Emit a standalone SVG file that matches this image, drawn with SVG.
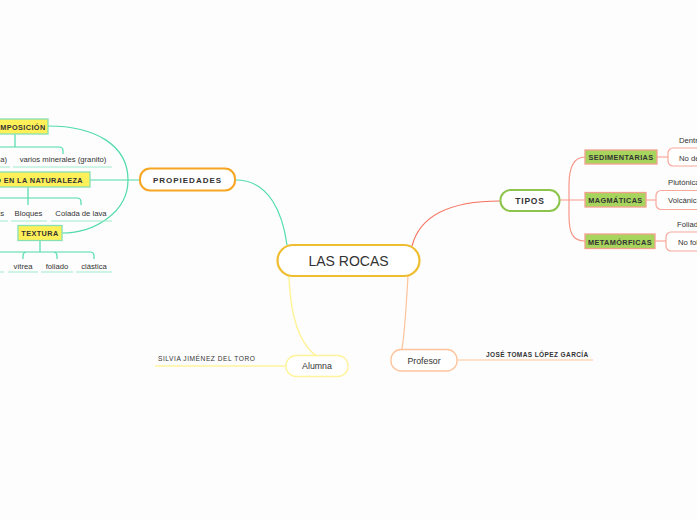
<svg xmlns="http://www.w3.org/2000/svg" width="697" height="520" viewBox="0 0 697 520">
<style>
text{font-family:"Liberation Sans",Arial,sans-serif;fill:#333}
.sub{font-size:7.7px}
.hl{font-size:7.3px;font-weight:bold;letter-spacing:0.4px}
.g{fill:none;stroke:#4fdcaa;stroke-width:1.2}
.ul{fill:none;stroke:#9eebcb;stroke-width:1.2}
.r{fill:none;stroke:#f6705e;stroke-width:1.2}
.rs{fill:none;stroke:#f7978a;stroke-width:1.2}
.ybox{fill:#fff05a;stroke:#86e0b2;stroke-width:1.3}
.gbox{fill:#a6d45c;stroke:#f4a08f;stroke-width:1.3}
.bracket{fill:#fff;stroke:#f7a89c;stroke-width:1.2}
</style>
<rect width="697" height="520" fill="#fdfdfd"/>
<g id="connectors">
  <path class="g" d="M236,180 C270,180 283,215 287,245"/>
  <path class="g" d="M140,180 H90"/>
  <path class="g" d="M48,126 C95,126 128,145 128,180 C128,212 95,233 62,233"/>
  <path class="g" d="M15,134 V147 M-10,147 H59 Q63,147 63,151 V154"/>
  <path class="g" d="M28,187 V205 M-10,198 H77 Q81,198 81,202 V205"/>
  <path class="g" d="M40,240 V252 M-10,252 H90 Q94,252 94,256 V259 M23,259 V256 Q23,252 27,252 M53,252 Q57,252 57,256 V259"/>
  <path class="ul" d="M-5,167 H10 M13,167 H112 M-5,221 H8 M11,221 H47 M51,221 H112 M-5,272 H4 M8,272 H38 M41,272 H73 M76,272 H112"/>
  <path class="r" d="M412,246 C420,215 450,201 500,201"/>
  <path class="rs" d="M559,200 H585 M585,157 C572,157 569,170 569,185 L569,215 C569,232 572,241 585,241 M657,157 H668 M646,200 H656 M655,241 H666"/>
  <path fill="none" stroke="#fff39a" stroke-width="1.5" d="M289,276 C291,330 305,365 348,366"/>
  <path fill="none" stroke="#fff39a" stroke-width="1.5" d="M286,366 H155"/>
  <path fill="none" stroke="#ffc39a" stroke-width="1.2" d="M408,276 C406,310 404,340 402,348 C399,356 395,358 392,360"/>
  <path fill="none" stroke="#ffc39a" stroke-width="1.2" d="M457,360 H593"/>
</g>
<g id="central">
  <rect x="277.5" y="245" width="142" height="31" rx="15.5" fill="#fff" stroke="#eebd30" stroke-width="2.2"/>
  <text x="348.5" y="266" text-anchor="middle" font-size="14">LAS ROCAS</text>
</g>
<g id="propiedades">
  <rect x="140" y="168.5" width="95" height="22" rx="10" fill="#fff" stroke="#f6a623" stroke-width="2"/>
  <text x="187.5" y="182.5" text-anchor="middle" font-size="8" font-weight="bold" letter-spacing="1">PROPIEDADES</text>
</g>
<g id="composicion">
  <rect x="-20" y="119" width="68" height="15" fill="#fff05a" stroke="#86e0b2" stroke-width="1.3"/>
  <text x="17" y="129.5" text-anchor="middle" class="hl">COMPOSICIÓN</text>
</g>
<g id="comp-sub1"><text x="7" y="161.5" text-anchor="end" class="sub">(roca)</text></g>
<g id="comp-sub2"><text x="63" y="161.5" text-anchor="middle" class="sub">varios minerales (granito)</text></g>
<g id="naturaleza">
  <rect x="-30" y="172" width="120" height="15" class="ybox"/>
  <text x="30" y="182.5" text-anchor="middle" class="hl">MODO EN LA NATURALEZA</text>
</g>
<g id="nat-sub1"><text x="4" y="215.5" text-anchor="end" class="sub">Coladas</text></g>
<g id="nat-sub2"><text x="28.5" y="215.5" text-anchor="middle" class="sub">Bloques</text></g>
<g id="nat-sub3"><text x="81" y="215.5" text-anchor="middle" class="sub">Colada de lava</text></g>
<g id="textura">
  <rect x="18" y="225.5" width="44" height="15" class="ybox"/>
  <text x="40" y="236" text-anchor="middle" class="hl">TEXTURA</text>
</g>
<g id="tex-sub1"><text x="23" y="268.5" text-anchor="middle" class="sub">vítrea</text></g>
<g id="tex-sub2"><text x="57" y="268.5" text-anchor="middle" class="sub">foliado</text></g>
<g id="tex-sub3"><text x="94" y="268.5" text-anchor="middle" class="sub">clástica</text></g>
<g id="tipos">
  <rect x="500.5" y="190" width="59" height="21" rx="10" fill="#fff" stroke="#8cc44c" stroke-width="2"/>
  <text x="530" y="203.5" text-anchor="middle" font-size="8.5" font-weight="bold" letter-spacing="0.8">TIPOS</text>
</g>
<g id="sedimentarias">
  <rect x="585" y="150" width="72" height="14" class="gbox"/>
  <text x="621" y="160" text-anchor="middle" class="hl" font-size="7">SEDIMENTARIAS</text>
</g>
<g id="magmaticas">
  <rect x="585" y="192.5" width="61" height="14.5" class="gbox"/>
  <text x="615.5" y="203" text-anchor="middle" class="hl" font-size="7">MAGMÁTICAS</text>
</g>
<g id="metamorficas">
  <rect x="585" y="234" width="70" height="14.5" class="gbox"/>
  <text x="620" y="244.5" text-anchor="middle" class="hl" font-size="7">METAMÓRFICAS</text>
</g>
<g id="sed-sub">
  <rect x="668" y="148" width="60" height="18" rx="5" class="bracket"/>
  <text x="679" y="142.5" class="sub">Dentríticas</text>
  <text x="679" y="161" class="sub">No detríticas</text>
</g>
<g id="mag-sub">
  <rect x="656" y="190.5" width="60" height="19" rx="5" class="bracket"/>
  <text x="668" y="184.5" class="sub">Plutónicas</text>
  <text x="668" y="203" class="sub">Volcánicas</text>
</g>
<g id="met-sub">
  <rect x="666" y="232" width="60" height="19" rx="5" class="bracket"/>
  <text x="677" y="226.5" class="sub">Foliadas</text>
  <text x="678" y="245" class="sub">No foliadas</text>
</g>
<g id="alumna">
  <rect x="286" y="355.5" width="62" height="21" rx="10" fill="#fff" stroke="#fff39a" stroke-width="1.3"/>
  <text x="317" y="369" text-anchor="middle" font-size="8.8">Alumna</text>
</g>
<g id="alumna-sub"><text x="158" y="360.5" font-size="6.6" letter-spacing="0.55">SILVIA JIMÉNEZ DEL TORO</text></g>
<g id="profesor">
  <rect x="391" y="349.5" width="66" height="21.5" rx="10" fill="#fff" stroke="#ffc39a" stroke-width="1.3"/>
  <text x="424" y="363.5" text-anchor="middle" font-size="8.8">Profesor</text>
</g>
<g id="profesor-sub"><text x="486" y="356.5" font-size="6.5" font-weight="bold" fill="#444" letter-spacing="0.4">JOSÉ TOMAS LÓPEZ GARCÍA</text></g>
</svg>
